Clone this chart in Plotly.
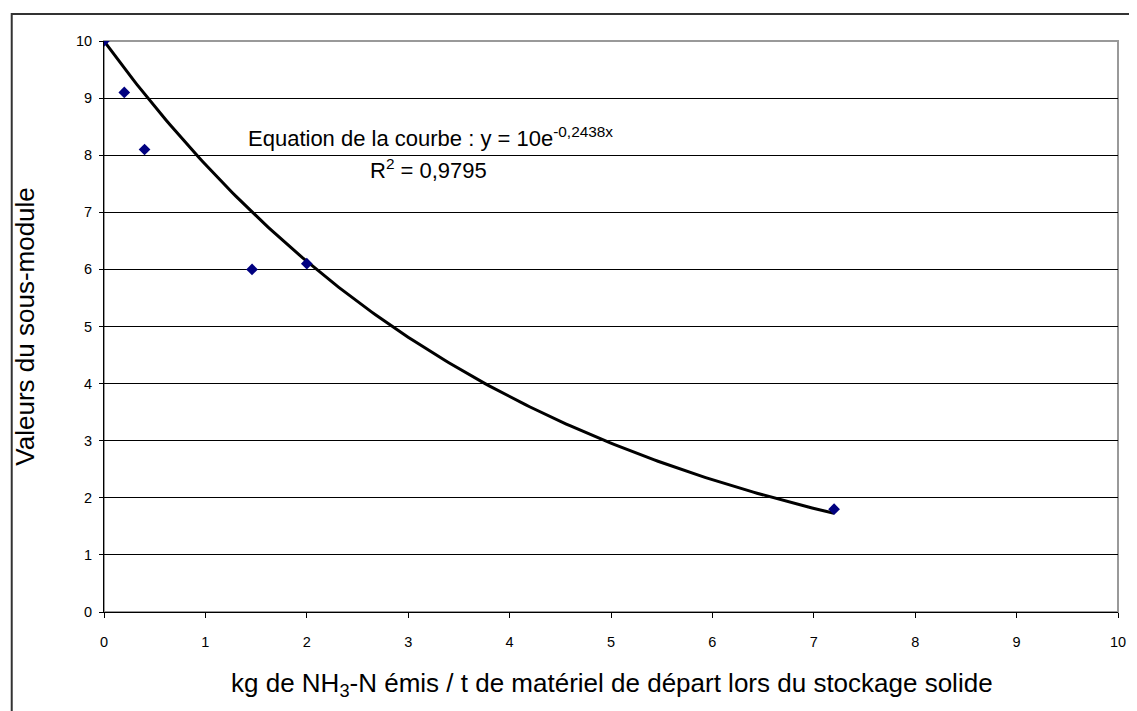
import plotly.graph_objects as go
import numpy as np

# Data
x_vals = [0.0, 0.2, 0.4, 1.46, 2.0, 7.2]
y_vals = [10.0, 9.1, 8.1, 6.0, 6.1, 1.8]
fit_a = 10.0
fit_b = -0.2438
x_ticks = list(range(0, 11))
y_ticks = list(range(0, 11))

xs = np.linspace(0, max(x_vals), 200)
ys = fit_a * np.exp(fit_b * xs)

fig = go.Figure()
fig.add_trace(go.Scatter(x=xs, y=ys, mode="lines",
                         line=dict(color="black", width=3), showlegend=False,
                         hoverinfo="skip"))
fig.add_trace(go.Scatter(x=x_vals, y=y_vals, mode="markers",
                         marker=dict(symbol="diamond", color="#000080", size=9),
                         showlegend=False))

font_family = "Liberation Sans, Arial, sans-serif"

# page body has an 8px margin: figure occupies pixels 8..1137, 8..711
W, H = 1129, 703
L, R, T, B = 96, 11, 33, 99
PW, PH = W - L - R, H - T - B

def px(xpix):
    return (xpix - 8 - L) / PW

def py(ypix):
    return (H - B - (ypix - 8)) / PH

fig.update_layout(
    width=W, height=H,
    margin=dict(l=L, r=R, t=T, b=B),
    paper_bgcolor="white", plot_bgcolor="white",
    font=dict(family=font_family, color="black"),
    xaxis=dict(range=[0, 10], tickvals=x_ticks, showgrid=False, zeroline=False,
               showline=True, linecolor="black", linewidth=1,
               ticks="outside", ticklen=5, tickcolor="black",
               tickfont=dict(size=14.5), ticklabelstandoff=12),
    yaxis=dict(range=[0, 10], tickvals=y_ticks, showgrid=True, gridcolor="black",
               gridwidth=1, zeroline=False,
               showline=True, linecolor="black", linewidth=1,
               ticks="outside", ticklen=4, tickcolor="black",
               tickfont=dict(size=14.5), ticklabelstandoff=4),
    shapes=[
        dict(type="rect", xref="paper", yref="paper", x0=0, x1=1, y0=0, y1=1,
             line=dict(color="#999999", width=2), fillcolor="rgba(0,0,0,0)", layer="between"),
        dict(type="rect", xref="paper", yref="paper",
             x0=px(11), x1=1.05, y0=-0.3, y1=py(14),
             line=dict(color="#333333", width=2), fillcolor="rgba(0,0,0,0)", layer="below"),
    ],
    annotations=[
        dict(text="Equation de la courbe : y = 10e<sup>-0,2438x</sup>", x=px(433),
             y=py(137), xref="paper", yref="paper", showarrow=False,
             font=dict(size=22), xanchor="center", yanchor="middle"),
        dict(text="R<sup>2</sup> = 0,9795", x=px(431),
             y=py(169), xref="paper", yref="paper", showarrow=False,
             font=dict(size=22), xanchor="center", yanchor="middle"),
        dict(text="kg de NH<sub>3</sub>-N émis / t de matériel de départ lors du stockage solide",
             x=px(616), y=py(684), xref="paper", yref="paper", showarrow=False,
             font=dict(size=26), xanchor="center", yanchor="middle"),
        dict(text="Valeurs du sous-module", textangle=-90,
             x=px(24), y=py(327), xref="paper", yref="paper", showarrow=False,
             font=dict(size=26), xanchor="center", yanchor="middle"),
    ],
)

fig.write_html("out.html")
